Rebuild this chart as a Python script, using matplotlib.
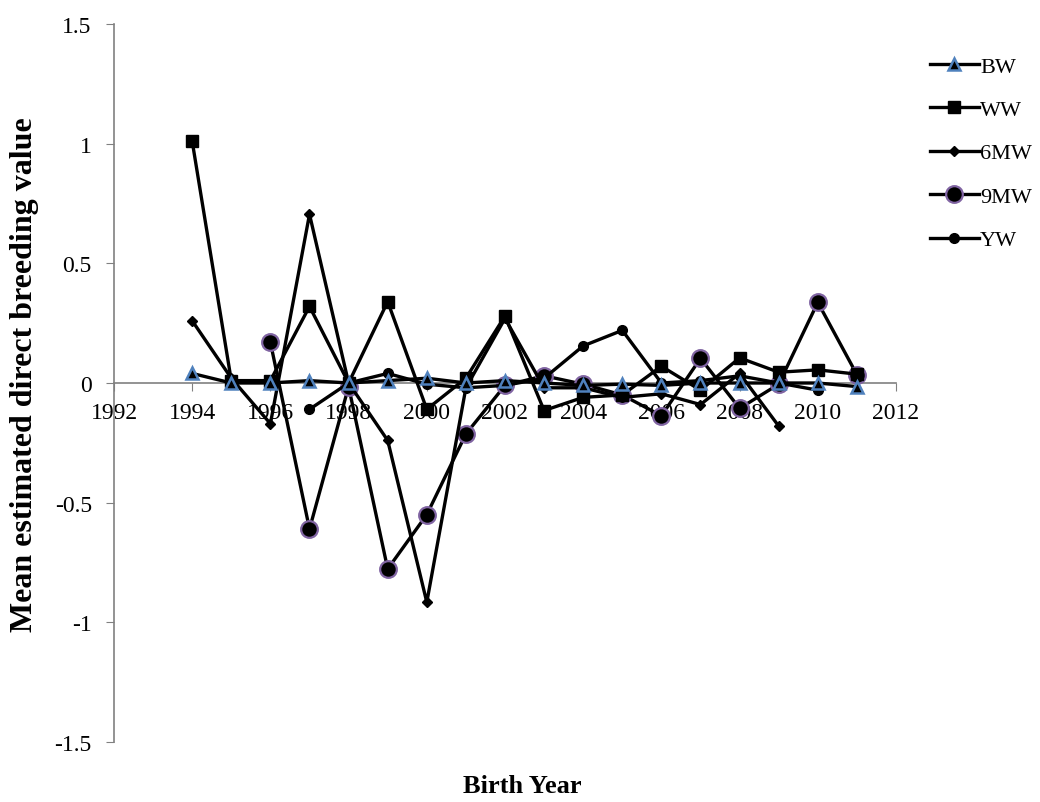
import matplotlib
matplotlib.use("Agg")
import matplotlib.pyplot as plt

plt.rcParams['font.family'] = ['Liberation Serif', 'DejaVu Serif']

bw_years = list(range(1994, 2012))
bw = [0.04, 0.0, 0.0, 0.01, 0.0, 0.01, 0.02, 0.0, 0.01, 0.0, -0.01, -0.005, -0.01, 0.0, 0.0, 0.0, 0.0, -0.015]

ww_years = list(range(1994, 2012))
ww = [1.01, 0.01, 0.01, 0.32, 0.0, 0.34, -0.11, 0.02, 0.28, -0.115, -0.06, -0.05, 0.07, -0.03, 0.105, 0.045, 0.055, 0.037]

mw6_years = list(range(1994, 2010))
mw6 = [0.26, 0.02, -0.17, 0.705, 0.0, -0.24, -0.916, -0.02, 0.27, -0.02, -0.02, -0.06, -0.045, -0.09, 0.04, -0.18]

mw9_years = list(range(1996, 2012))
mw9 = [0.17, -0.61, -0.015, -0.777, -0.55, -0.213, -0.01, 0.03, -0.005, -0.05, -0.137, 0.103, -0.106, -0.005, 0.337, 0.035]

yw_years = list(range(1997, 2011))
yw = [-0.11, 0.0, 0.04, -0.005, -0.02, -0.01, 0.02, 0.155, 0.22, 0.0, 0.01, 0.03, 0.0, -0.03]

fig = plt.figure(figsize=(10.4, 8.03), dpi=100)
ax = fig.add_axes([114/1040, 1-743/803, (896-114)/1040, (743-25)/803])

lw = 2.4
ax.plot(bw_years, bw, color='black', lw=lw, marker='^', ms=9, mfc='black', mec='#4F81BD', mew=1.8, label='BW', zorder=5)
ax.plot(ww_years, ww, color='black', lw=lw, marker='s', ms=9, mfc='black', mec='black', label='WW', zorder=4)
ax.plot(mw6_years, mw6, color='black', lw=lw, marker='D', ms=5.5, mfc='black', mec='black', label='6MW', zorder=4)
ax.plot(mw9_years, mw9, color='black', lw=lw, marker='o', ms=12, mfc='black', mec='#8064A2', mew=1.6, label='9MW', zorder=3)
ax.plot(yw_years, yw, color='black', lw=lw, marker='o', ms=7, mfc='black', mec='black', label='YW', zorder=4)

ax.set_xlim(1992, 2012)
ax.set_ylim(-1.5, 1.5)
ax.set_xticks(range(1992, 2013, 2))
ax.set_yticks([-1.5, -1, -0.5, 0, 0.5, 1, 1.5])
ax.set_yticklabels(['-1.5', '-1', '-0.5', '0', '0.5', '1', '1.5'])

for s in ['top', 'right']:
    ax.spines[s].set_visible(False)
ax.spines['left'].set_color('#808080')
ax.spines['left'].set_linewidth(1.2)
ax.spines['bottom'].set_position(('data', 0))
ax.spines['bottom'].set_color('#808080')
ax.spines['bottom'].set_linewidth(1.2)
ax.spines['bottom'].set_zorder(1)
ax.tick_params(axis='y', direction='out', length=6, color='#808080', labelsize=17, pad=10)
ax.tick_params(axis='x', direction='out', length=6, color='#808080', labelsize=17, pad=8)

fig.text(25/1040, 1-375/803, 'Mean estimated direct breeding value', rotation=90,
         ha='center', va='center', fontsize=23, fontweight='bold')
fig.text(522/1040, 1-787/803, 'Birth Year', ha='center', va='center', fontsize=19, fontweight='bold')

leg = fig.legend(loc='upper left', bbox_to_anchor=(910/1040, 1-37/803), frameon=False,
                 fontsize=16, labelspacing=1.03, handlelength=2.2, handletextpad=0.05)

fig.savefig('out.png', dpi=100)
